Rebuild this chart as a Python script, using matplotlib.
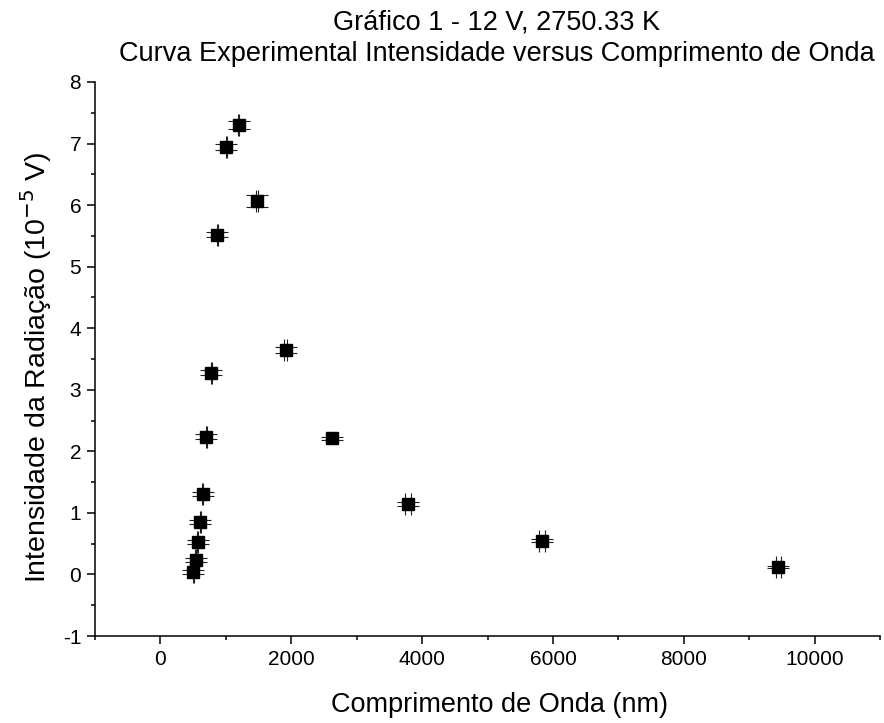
import numpy as np
import matplotlib
matplotlib.use("Agg")
import matplotlib.pyplot as plt
from matplotlib.ticker import MultipleLocator

plt.rcParams['font.family'] = ['Liberation Sans', 'DejaVu Sans']
plt.rcParams['axes.unicode_minus'] = False

# comprimento de onda (nm) e intensidade (10^-5 V)
wavelength = [505, 536, 571, 608, 647, 699, 776, 872, 1006, 1198,
              1474, 1913, 2617, 3785, 5836, 9448]
intensity = [0.04, 0.23, 0.53, 0.85, 1.31, 2.24, 3.28, 5.52, 6.95, 7.30,
             6.07, 3.65, 2.21, 1.14, 0.55, 0.12]
wavelength_err = [8, 8, 8, 8, 8, 8, 8, 8, 10, 10,
                  12, 23, np.nan, 46, 46, 43]
intensity_err = [0.03, 0.03, 0.03, 0.03, 0.03, 0.035, 0.035, 0.04, 0.05, 0.06,
                 0.10, 0.05, 0.025, 0.03, 0.03, 0.015]

fig = plt.figure(figsize=(8.84, 7.23), dpi=100)
ax = fig.add_axes([0.1075, 0.1203, 0.888, 0.7663])

ax.errorbar(wavelength, intensity, xerr=wavelength_err, yerr=intensity_err,
            fmt='s', ms=8, color='black', ecolor='#222222',
            elinewidth=0.8, capsize=8, capthick=0.8)

ax.set_xlim(-1000, 11000)
ax.set_ylim(-1, 8)
ax.xaxis.set_major_locator(MultipleLocator(2000))
ax.xaxis.set_minor_locator(MultipleLocator(1000))
ax.yaxis.set_major_locator(MultipleLocator(1))
ax.yaxis.set_minor_locator(MultipleLocator(0.5))

for s in ['top', 'right']:
    ax.spines[s].set_visible(False)
for s in ['left', 'bottom']:
    ax.spines[s].set_linewidth(1.1)

ax.tick_params(which='major', direction='out', length=6, width=1.1,
               labelsize=15, pad=4)
ax.tick_params(which='minor', direction='out', length=3, width=1.1)

ax.set_xlabel("Comprimento de Onda (nm)", fontsize=19.5)
ax.xaxis.set_label_coords(0.515, -0.101)
ax.set_ylabel("Intensidade da Radiação (10$^{-5}$ V)", fontsize=20.5)
ax.yaxis.set_label_coords(-0.052, 0.486)

ax.set_title("Gráfico 1 - 12 V, 2750.33 K\n"
             "Curva Experimental Intensidade versus Comprimento de Onda",
             fontsize=19.5, x=0.512, pad=15, linespacing=1.28)

fig.savefig("out.png", dpi=100)
